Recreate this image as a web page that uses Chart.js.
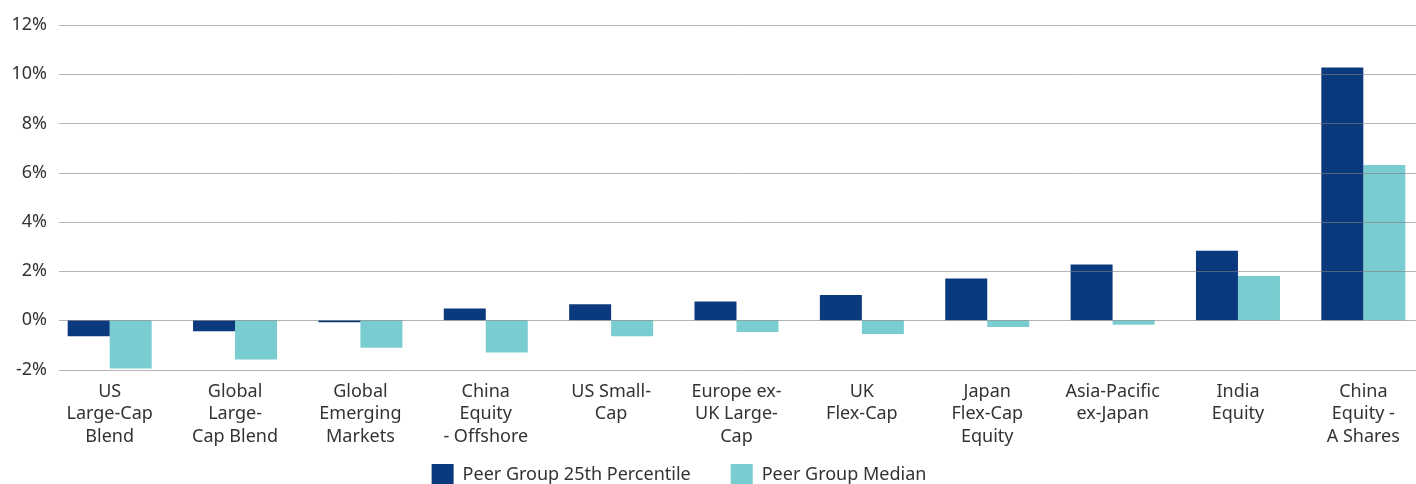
<!DOCTYPE html>
<html>
<head>
<meta charset="utf-8">
<script src="https://cdn.jsdelivr.net/npm/chart.js@4"></script>
<style>
  html, body { margin: 0; padding: 0; background: #fff; }
  #wrap { width: 1416px; height: 484px; overflow: hidden; position: relative; }
  #box { width: 1430px; height: 531px; position: absolute; left: 0; top: 0; }
</style>
</head>
<body>
<div id="wrap"><div id="box"><canvas id="myChart"></canvas></div></div>
<script>
const categories = [
	['US', 'Large-Cap', 'Blend'],
	['Global', 'Large-', 'Cap Blend'],
	['Global', 'Emerging', 'Markets'],
	['China', 'Equity', '- Offshore'],
	['US Small-', 'Cap'],
	['Europe ex-', 'UK Large-', 'Cap'],
	['UK', 'Flex-Cap'],
	['Japan', 'Flex-Cap', 'Equity'],
	['Asia-Pacific', 'ex-Japan'],
	['India', 'Equity'],
	['China', 'Equity -', 'A Shares']
];
const percentile25 = [-0.65, -0.45, -0.08, 0.48, 0.65, 0.76, 1.03, 1.70, 2.27, 2.83, 10.27];
const median = [-1.96, -1.59, -1.12, -1.31, -0.65, -0.48, -0.56, -0.27, -0.18, 1.80, 6.31];
const yTicks = [-2, 0, 2, 4, 6, 8, 10, 12];

// grid drawn over the bars, like the original
const gridOver = {
	id: 'gridOver',
	afterLayout(chart) {
		// legend sits left of centre and tight under the labels in the original
		chart.legend.left -= 34;
		chart.legend.right -= 34;
		chart.legend.top -= 35;
		chart.legend.bottom -= 35;
	},
	afterDatasetsDraw(chart) {
		const ctx = chart.ctx;
		const y = chart.scales.y;
		ctx.save();
		ctx.strokeStyle = 'rgba(128,128,128,0.6)';
		ctx.lineWidth = 1;
		yTicks.forEach((v) => {
			const py = Math.round(y.getPixelForValue(v)) + 0.5;
			ctx.beginPath();
			ctx.moveTo(59, py);
			ctx.lineTo(1416, py);
			ctx.stroke();
		});
		ctx.restore();
	}
};

const ctx = document.getElementById('myChart');
new Chart(ctx, {
	type: 'bar',
	data: {
		labels: categories,
		datasets: [{
			label: 'Peer Group 25th Percentile',
			data: percentile25,
			backgroundColor: '#0b397d',
		}, {
			label: 'Peer Group Median',
			data: median,
			backgroundColor: '#79cdd0',
		}]
	},
	plugins: [gridOver],
	options: {
		animation: false,
		responsive: true,
		maintainAspectRatio: false,
		layout: { padding: { top: 25, right: 4, bottom: 0, left: 0 } },
		categoryPercentage: 0.67,
		barPercentage: 1,
		scales: {
			x: {
				grid: { display: false, drawTicks: false },
				border: { display: false },
				ticks: {
					color: '#333',
					padding: 11,
					maxRotation: 0,
					autoSkip: false,
					font: { family: 'Noto Sans', size: 18, lineHeight: 1.25 }
				}
			},
			y: {
				min: -2,
				max: 12,
				afterFit: (scale) => { scale.width = 47; },
				afterBuildTicks: (scale) => { scale.ticks = yTicks.map((v) => ({ value: v })); },
				grid: { display: false, drawTicks: false },
				border: { display: false },
				ticks: {
					color: '#333',
					padding: 0,
					font: { family: 'Noto Sans', size: 18 },
					callback: (v) => v + '%'
				}
			}
		},
		plugins: {
			tooltip: { enabled: false },
			legend: {
				position: 'bottom',
				labels: {
					color: '#333',
					boxWidth: 22,
					boxHeight: 22,
					padding: 40,
					font: { family: 'Noto Sans', size: 18 }
				}
			}
		}
	}
});
</script>
</body>
</html>
